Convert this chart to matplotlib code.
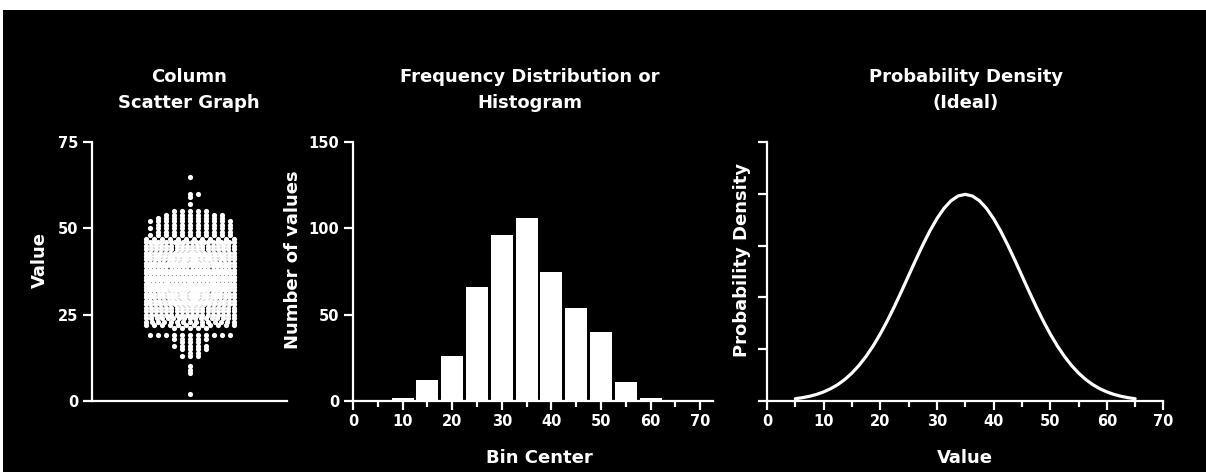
import matplotlib
matplotlib.use('Agg')
import matplotlib.pyplot as plt
from matplotlib.patches import Rectangle
from matplotlib.ticker import MultipleLocator, NullFormatter
import numpy as np

W, H = 1206, 472

# ---- data ----
# Column scatter: value levels and number of points drawn at each level
scatter_levels = [65, 60, 59, 57, 55, 54, 53, 52, 51, 50, 49, 48, 47, 46,
                  45, 44, 43, 42, 41, 40, 39, 38, 37, 36, 35, 34, 33, 32, 31, 30,
                  29, 28, 27, 26, 25, 24, 23, 22,
                  21, 19, 18, 17, 16, 15, 14, 13, 10, 9, 8, 2]
scatter_counts = [1, 2, 1, 1, 5, 8, 9, 11, 10, 11, 10, 11, 12, 22,
                  18, 18, 19, 20, 20, 21, 22, 22, 23, 23, 24, 24, 23, 22, 21, 21,
                  20, 19, 18, 18, 18, 17, 15, 12,
                  5, 11, 5, 3, 5, 4, 2, 3, 1, 1, 1, 1]

# Histogram
bin_centers = [10, 15, 20, 25, 30, 35, 40, 45, 50, 55, 60]
bin_counts = [2, 12, 26, 66, 96, 106, 75, 54, 40, 11, 2]

# Ideal probability density curve
density_x = [5, 6.25, 7.5, 8.75, 10, 11.25, 12.5, 13.75, 15, 16.25, 17.5, 18.75,
             20, 21.25, 22.5, 23.75, 25, 26.25, 27.5, 28.75, 30, 31.25, 32.5, 33.75,
             35, 36.25, 37.5, 38.75, 40, 41.25, 42.5, 43.75, 45, 46.25, 47.5, 48.75,
             50, 51.25, 52.5, 53.75, 55, 56.25, 57.5, 58.75, 60, 61.25, 62.5, 63.75, 65]
density_y = [0.00044, 0.00064, 0.00091, 0.00127, 0.00175, 0.00238, 0.00317, 0.00417,
             0.00540, 0.00688, 0.00863, 0.01065, 0.01295, 0.01550, 0.01826, 0.02119,
             0.02420, 0.02721, 0.03011, 0.03282, 0.03521, 0.03719, 0.03867, 0.03958,
             0.03989,
             0.03958, 0.03867, 0.03719, 0.03521, 0.03282, 0.03011, 0.02721, 0.02420,
             0.02119, 0.01826, 0.01550, 0.01295, 0.01065, 0.00863, 0.00688, 0.00540,
             0.00417, 0.00317, 0.00238, 0.00175, 0.00127, 0.00091, 0.00064, 0.00044]

titles = ["Column\nScatter Graph", "Frequency Distribution or\nHistogram",
          "Probability Density\n(Ideal)"]

# ---- figure ----
plt.rcParams['font.family'] = ['DejaVu Sans']
fig = plt.figure(figsize=(W / 100, H / 100), dpi=100, facecolor='white')
fig.patches.append(Rectangle((3 / W, 0), 1 - 3 / W, 1 - 10 / H,
                             transform=fig.transFigure, facecolor='black',
                             edgecolor='none', zorder=-10))


def fax(left, right, top=142, bottom=401):
    return fig.add_axes([left / W, 1 - bottom / H, (right - left) / W, (bottom - top) / H])


ax1 = fax(92, 287)
ax2 = fax(353, 353 + 72.5 * 4.96)
ax3 = fax(767, 767 + 70 * 5.664)

LW = 1.6
for ax in (ax1, ax2, ax3):
    ax.set_facecolor('none')
    for s in ('top', 'right'):
        ax.spines[s].set_visible(False)
    for s in ('left', 'bottom'):
        ax.spines[s].set_color('white')
        ax.spines[s].set_linewidth(LW)
    ax.tick_params(which='major', direction='out', colors='white', width=LW,
                   length=6.2, labelsize=10.5, pad=3.5)
    ax.tick_params(which='minor', direction='out', colors='white', width=LW,
                   length=4.0)

# ---- panel 1: column scatter ----
ax1_px = 195.0
xs, ys = [], []
for lev, n in zip(scatter_levels, scatter_counts):
    if n <= 11:
        ks = [0]
        i = 1
        while len(ks) < n:
            ks.append(i)
            if len(ks) < n:
                ks.append(-i)
            i += 1
        offs = np.array(ks, dtype=float) * 8.0
    else:
        offs = np.linspace(-44, 44, n)
    xs.extend(offs / (ax1_px / 2))
    ys.extend([lev] * n)
ax1.scatter(xs, ys, s=14, c='white', linewidths=0, clip_on=False, zorder=3)
ax1.set_xlim(-1, 1)
ax1.set_ylim(0, 75)
ax1.set_xticks([])
ax1.set_yticks([0, 25, 50, 75])
ax1.set_ylabel("Value", fontsize=13, fontweight='bold', color='white', va='center')
ax1.yaxis.set_label_coords((40 - 92) / 195, (401 - 260) / 259)

# ---- panel 2: histogram ----
ax2.bar(bin_centers, bin_counts, width=4.4, color='white', edgecolor='none', zorder=2)
ax2.set_xlim(0, 72.5)
ax2.set_ylim(0, 150)
ax2.set_xticks(range(0, 71, 10))
ax2.xaxis.set_minor_locator(MultipleLocator(5))
ax2.set_yticks([0, 50, 100, 150])
ax2.set_ylabel("Number of values", fontsize=13, fontweight='bold', color='white', va='center')
ax2.yaxis.set_label_coords((293 - 353) / (72.5 * 4.96), (401 - 260) / 259)
ax2.set_xlabel("Bin Center", fontsize=13, fontweight='bold', color='white', va='baseline')
ax2.xaxis.set_label_coords((539 - 353) / (72.5 * 4.96), (401 - 463) / 259)

# ---- panel 3: density ----
ax3.plot(density_x, density_y, color='white', lw=2.3, solid_joinstyle='round',
         solid_capstyle='round', zorder=3)
ax3.set_xlim(0, 70)
ax3.set_ylim(0, 0.05)
ax3.set_xticks(range(0, 71, 10))
ax3.xaxis.set_minor_locator(MultipleLocator(5))
ax3.set_yticks([0, 0.01, 0.02, 0.03, 0.04, 0.05])
ax3.yaxis.set_major_formatter(NullFormatter())
ax3.set_ylabel("Probability Density", fontsize=13, fontweight='bold', color='white', va='center')
ax3.yaxis.set_label_coords((742 - 767) / (70 * 5.664), (401 - 260) / 259)
ax3.set_xlabel("Value", fontsize=13, fontweight='bold', color='white', va='baseline')
ax3.xaxis.set_label_coords(0.5, (401 - 463) / 259)

for ax in (ax1, ax2, ax3):
    for lab in ax.get_xticklabels() + ax.get_yticklabels():
        lab.set_fontweight('bold')

# ---- titles ----
for cx, t in zip([189, 530, 966], titles):
    fig.text(cx / W, 1 - 108 / H, t, ha='center', va='baseline', ma='center',
             linespacing=1.55, fontsize=13, fontweight='bold', color='white')

fig.savefig('out.png', dpi=100, facecolor=fig.get_facecolor())
